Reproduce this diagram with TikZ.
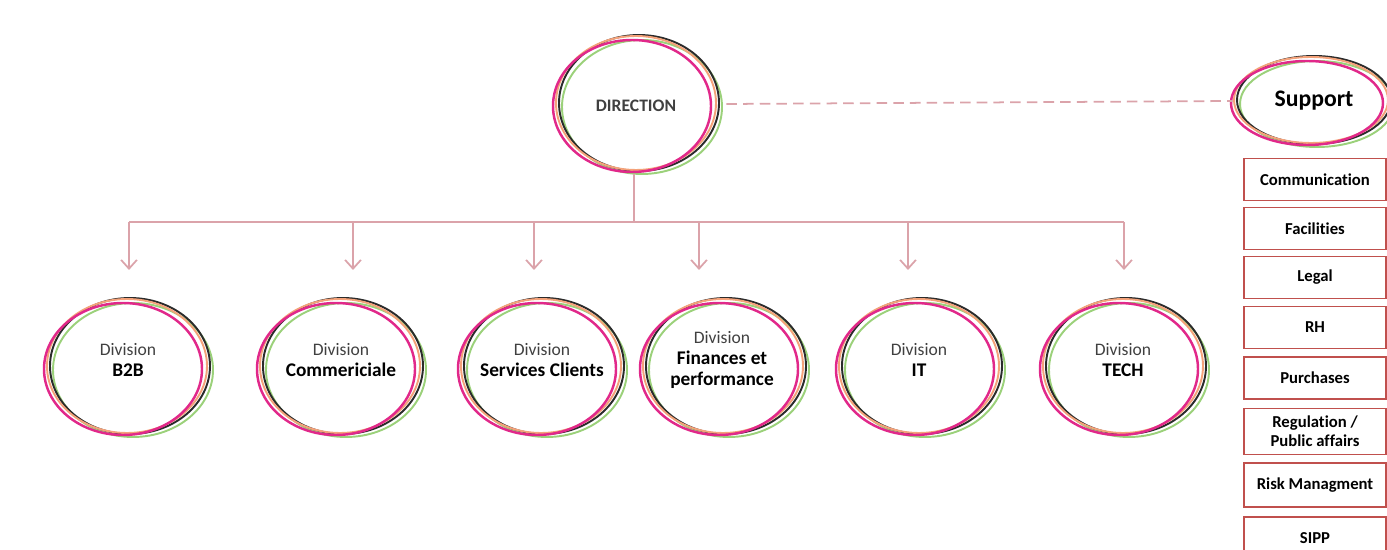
\documentclass[tikz,border=0pt]{standalone}
\usepackage{fontspec}
\setmainfont[Ligatures=NoCommon]{Carlito}
\usetikzlibrary{arrows.meta,shapes.geometric}

\definecolor{ringmag}{HTML}{E1288A}
\definecolor{ringorange}{HTML}{F4A27A}
\definecolor{ringblack}{HTML}{2B2B2B}
\definecolor{ringgreen}{HTML}{9BD17A}
\definecolor{linkpink}{HTML}{DBA3AA}
\definecolor{boxred}{HTML}{C0504D}
\definecolor{divgray}{HTML}{404040}

\tikzset{
  link/.style={draw=linkpink, line width=1pt},
  ring/.style={line width=1.1pt},
  oval/.style={ellipse, minimum width=3.28cm, minimum height=2.8cm, inner sep=0pt},
  supbox/.style={rectangle, draw=boxred, line width=0.9pt, minimum width=2.84cm,
    minimum height=0.84cm, inner sep=1pt, align=center,
    font=\fontsize{9.5}{11}\selectfont\bfseries},
  divtext/.style={align=center, text=black, font=\fontsize{11}{12}\selectfont\bfseries}
}
\newcommand{\divhead}{{\fontsize{10}{12}\selectfont\mdseries\color{divgray}Division}\\}
\newcommand{\rings}[3]{%
  \draw[ring,ringgreen] ([shift={(5,3)}]#1.center) ellipse [x radius=#2*0.02cm, y radius=#3*0.02cm];
  \draw[ring,ringblack] ([shift={(2,-1)}]#1.center) ellipse [x radius=#2*0.02cm, y radius=#3*0.02cm+0.02cm];
  \draw[ring,ringorange] ([shift={(-1,-1)}]#1.center) ellipse [x radius=#2*0.02cm, y radius=#3*0.02cm];
  \draw[ring,ringmag,line width=1.4pt] ([shift={(-5,2)}]#1.center) ellipse [x radius=#2*0.02cm-0.02cm, y radius=#3*0.02cm-0.02cm];
}

\begin{document}
\begin{tikzpicture}[x=0.02cm,y=-0.02cm,>={Straight Barb[length=5pt,width=9pt]}]
\path[use as bounding box, clip] (0,0) rectangle (1387,550);

% ellipses
\path (637,104) node[oval](dir){}
(128,367) node[oval](b2b){}
(341,367) node[oval](com){}
(542,367) node[oval](sc){}
(724,367) node[oval](fin){}
(920,367) node[oval](it){}
(1124,367) node[oval](tech){}
(1312,101) node[oval, minimum width=3.16cm, minimum height=1.84cm](sup){};
\foreach \n in {dir,b2b,com,sc,fin,it,tech} {\rings{\n}{80}{67}}
\rings{sup}{77}{43}

% labels
\path (636,106) node[font=\fontsize{10}{12}\selectfont\bfseries, text=divgray](dirlbl){DIRECTION}
(1314,101) node[font=\fontsize{13.5}{15}\selectfont\bfseries](suplbl){Support}
(128,360) node[divtext](b2blbl){\divhead B2B}
(341,360) node[divtext](comlbl){\divhead Commericiale}
(542,360) node[divtext](sclbl){\divhead Services Clients}
(722,360) node[divtext](finlbl){\divhead Finances et\\performance}
(919,360) node[divtext](itlbl){\divhead IT}
(1123,360) node[divtext](techlbl){\divhead TECH};

% support boxes
\path (1315,179.5) node[supbox](comm){Communication}
(1315,228.5) node[supbox](fac){Facilities}
(1315,277.5) node[supbox](legal){Legal}
(1315,327.5) node[supbox](rh){RH}
(1315,378) node[supbox](purch){Purchases}
(1315,431.5) node[supbox, minimum height=0.92cm](reg){Regulation /\\Public affairs}
(1315,485) node[supbox, minimum height=0.88cm](risk){Risk Managment}
(1315,538) node[supbox](sipp){SIPP};

% links
\coordinate (bus) at (634,222);
\draw[link] (dir.south -| bus) -- (bus);
\foreach \n/\x in {b2b/129,com/353,sc/534,fin/699,it/908,tech/1124} {
  \coordinate (t\n) at (\x,270);
  \draw[link,->] (t\n |- bus) -- (t\n);
}
\draw[link] (tb2b |- bus) -- (ttech |- bus);
\draw[link, dash pattern=on 6pt off 3.5pt] ([xshift=4pt]dir.east) -- (sup.west);
\end{tikzpicture}
\end{document}
